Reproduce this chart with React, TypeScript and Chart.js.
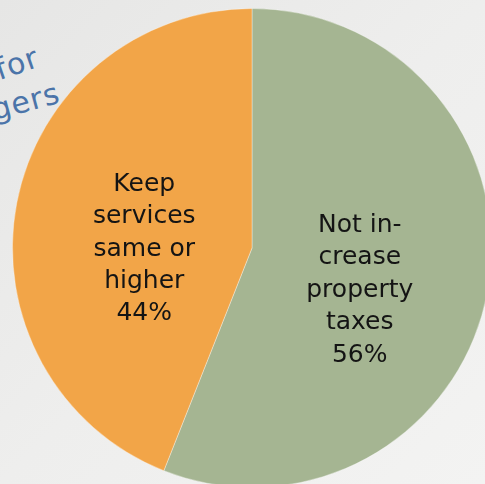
import React, { useEffect, useRef } from "react";
import { Chart, registerables } from "chart.js";

Chart.register(...registerables);

const categories = ["Not increase property taxes", "Keep services same or higher"];
const values = [56, 44];
const labelLines = [
  ["Not in-", "crease", "property", "taxes"],
  ["Keep", "services", "same or", "higher"],
];
const sliceColors = ["#A5B592", "#F2A548"];

const labelPlugin = {
  id: "sliceLabels",
  afterDatasetsDraw(chart: any) {
    const ctx = chart.ctx;
    const meta = chart.getDatasetMeta(0);
    ctx.save();
    ctx.font = '25px "DejaVu Sans", sans-serif';
    ctx.fillStyle = "#141414";
    ctx.textAlign = "center";
    ctx.textBaseline = "alphabetic";
    meta.data.forEach((arc: any, i: number) => {
      const { x, y, startAngle, endAngle, outerRadius } = arc.getProps(
        ["x", "y", "startAngle", "endAngle", "outerRadius"],
        true
      );
      const mid = (startAngle + endAngle) / 2;
      const r = outerRadius * 0.458;
      const cx = x + Math.cos(mid) * r;
      const cy = y + Math.sin(mid) * r + outerRadius * 0.08;
      const lines = [...labelLines[i], `${values[i]}%`];
      const lh = 32.4;
      const midIdx = (lines.length - 1) / 2;
      lines.forEach((t, k) => {
        ctx.fillText(t, cx, cy + 9 + (k - midIdx) * lh);
      });
    });
    ctx.restore();
  },
};

function PieChart() {
  const ref = useRef<HTMLCanvasElement | null>(null);
  useEffect(() => {
    if (!ref.current) return;
    const chart = new Chart(ref.current, {
      type: "pie",
      data: {
        labels: categories,
        datasets: [
          {
            data: values,
            backgroundColor: sliceColors,
            borderColor: "rgba(255,255,255,0.35)",
            borderWidth: 1,
          },
        ],
      },
      options: {
        animation: false,
        responsive: true,
        maintainAspectRatio: false,
        layout: { padding: 0 },
        plugins: {
          legend: { display: false },
          tooltip: { enabled: false },
        },
      },
      plugins: [labelPlugin],
    });
    return () => chart.destroy();
  }, []);
  return <canvas ref={ref} />;
}

export default function App() {
  const hand: React.CSSProperties = {
    position: "absolute",
    fontFamily: '"DejaVu Sans", sans-serif',
    fontSize: 30,
    letterSpacing: 1,
    color: "#4B74A9",
    whiteSpace: "nowrap",
    transformOrigin: "left bottom",
    lineHeight: 1,
  };
  return (
    <div
      style={{
        position: "fixed",
        left: 0,
        top: 0,
        width: 485,
        height: 484,
        overflow: "hidden",
        background: "linear-gradient(135deg, #e6e6e5 0%, #eeeeed 50%, #f3f3f2 100%)",
      }}
    >
      <span style={{ ...hand, left: 1, top: 55, transform: "rotate(-19deg)" }}>for</span>
      <span style={{ ...hand, left: -4, top: 95, transform: "rotate(-15deg)" }}>gers</span>
      <div style={{ position: "absolute", left: 12, top: 8, width: 480, height: 480 }}>
        <PieChart />
      </div>
    </div>
  );
}
